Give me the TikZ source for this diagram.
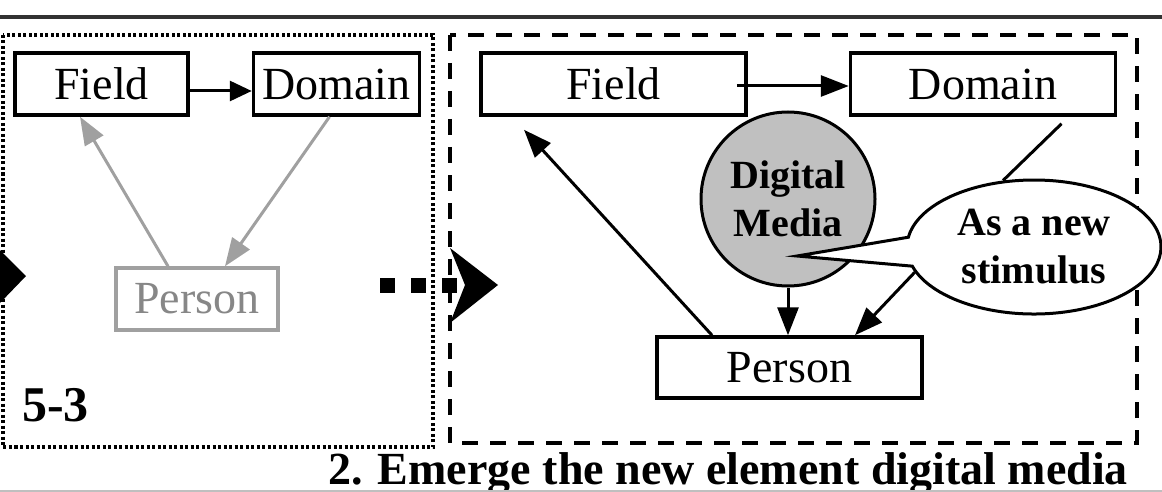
\documentclass[tikz,border=0pt]{standalone}
\usepackage{fontspec}
\setmainfont{Liberation Serif}
\usetikzlibrary{arrows.meta, positioning, shapes.callouts, shapes.geometric}
\definecolor{faded}{RGB}{160,160,160}
\definecolor{fadedtext}{RGB}{135,135,135}
\definecolor{mediagray}{RGB}{192,192,192}
\definecolor{rulegray}{RGB}{50,50,50}

\begin{document}
\begin{tikzpicture}[x=1pt, y=-1pt,
    box/.style={rectangle, draw, line width=3.5pt, minimum height=62pt, inner sep=0pt,
                font=\fontsize{46}{50}\selectfont},
    faded/.style={draw=faded, text=fadedtext},
    arrow/.style={-{Triangle[length=28pt,width=21pt]}, line width=3pt},
    fadedarrow/.style={arrow, color=faded},
    boldtext/.style={font=\fontsize{40}{48}\selectfont\bfseries, align=center},
    tag/.style={font=\fontsize{50}{55}\selectfont\bfseries, anchor=base west, inner sep=0pt}
  ]
  \useasboundingbox (0,0) rectangle (1162,492);

  % top rule and frames
  \draw[rulegray, line width=4pt] (0,17) -- (1162,17);
  \draw[line width=3.5pt, dash pattern=on 3pt off 2.5pt] (3,35) rectangle (433,447);
  \draw[line width=3.5pt, dash pattern=on 16pt off 12pt] (450,35) rectangle (1137,443);

  % 5-3
  \node[box, minimum width=173pt] (field1) at (101.5,84) {Field};
  \node[box, minimum width=166pt, right=62pt of field1] (domain1) {Domain};
  \node[box, faded, minimum width=162pt] (person1) at (197,299) {Person};

  \draw[arrow, -{Triangle[length=22pt,width=20pt]}] ([yshift=-7pt]field1.east) -- ([yshift=-7pt]domain1.west);
  \draw[fadedarrow] ([xshift=-29pt]person1.north) -- ([xshift=-21.5pt]field1.south);
  \draw[fadedarrow] ([xshift=-7pt]domain1.south) -- ([xshift=28pt]person1.north);

  \node[tag] (tag53) at (22,421) {5-3};

  % transitions
  \fill (0,250) -- (26,276) -- (0,303) -- cycle;
  \foreach \x in {380,411,442} \fill (\x,278) rectangle +(15,15);
  \fill (450,248) -- (498,285) -- (450,323) -- (465,285) -- cycle;

  % 5-4
  \node[box, minimum width=265pt] (field2) at (613.5,84) {Field};
  \node[box, minimum width=265pt, right=101pt of field2] (domain2) {Domain};
  \node[circle, draw, line width=3pt, fill=mediagray, minimum size=174pt, inner sep=0pt, boldtext] (media) at (788,199) {Digital\\Media};
  \node[box, minimum width=265pt, minimum height=61pt] (person2) at (789.5,367.5) {Person};
  \node[ellipse callout, draw, fill=white, line width=3pt, minimum width=254pt, minimum height=134pt,
        inner sep=0pt, boldtext, callout pointer arc=25,
        callout absolute pointer={([xshift=9pt,yshift=-57pt]media.center)}] (stimulus) at (1034,247) {As a new\\stimulus};

  \draw[arrow] ([xshift=-11pt,yshift=-2pt]field2.east) -- ([yshift=-2pt]domain2.west);
  \draw[arrow] ([xshift=-77.5pt]person2.north) -- ([xshift=-89.5pt,yshift=-13pt]field2.south);
  \draw[arrow] (media) -- (media |- person2.north);
  \draw[arrow] (stimulus.192) -- ([xshift=65.5pt]person2.north);
  \draw[line width=3pt] ([xshift=78.5pt,yshift=-7pt]domain2.south) -- (stimulus.115);

  % caption
  \node[font=\fontsize{46}{50}\selectfont\bfseries, anchor=base] (title) at (728,484) {2. Emerge the new element digital media};
  \draw[black!25, line width=1.5pt] (0,491) -- (1162,491);

\end{tikzpicture}
\end{document}
